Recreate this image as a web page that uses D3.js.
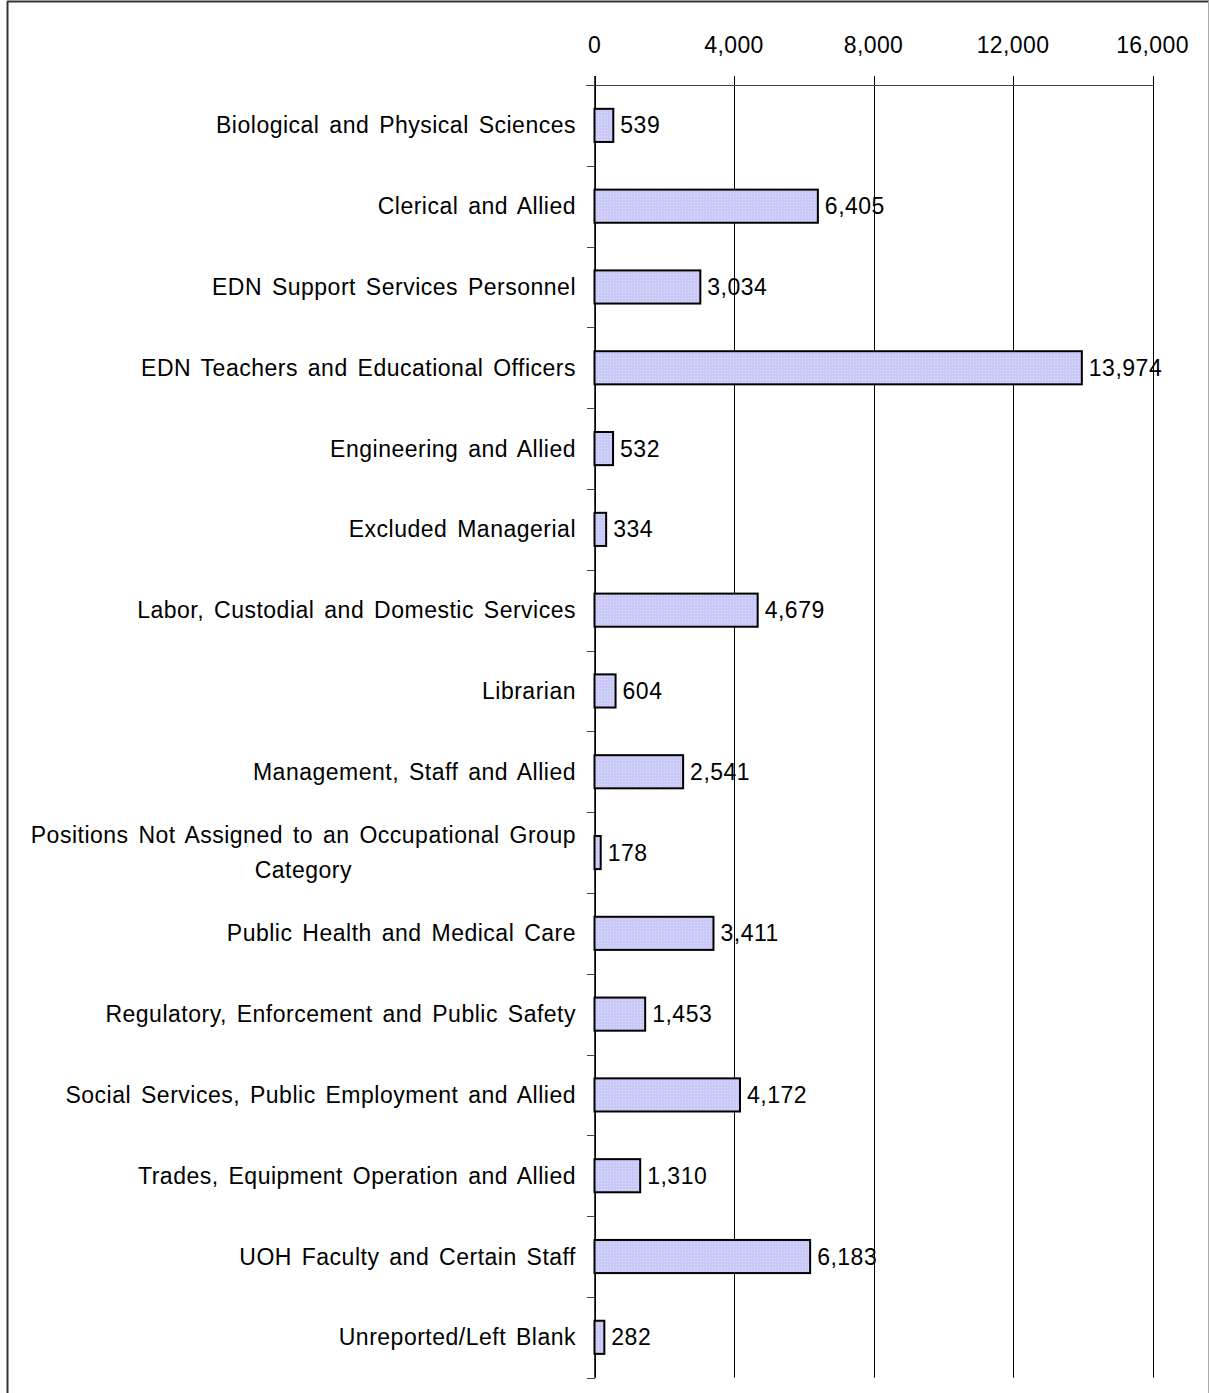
<!DOCTYPE html>
<html>
<head>
<meta charset="utf-8">
<script src="https://cdn.jsdelivr.net/npm/d3@7"></script>
<style>
  html, body { margin: 0; padding: 0; background: #fff; }
  svg { display: block; }
  text { font-family: "Liberation Sans", Arial, sans-serif; fill: #000; }
</style>
</head>
<body>
<svg id="chart" width="1209" height="1393"></svg>
<script>
const categories = [
  "Biological and Physical Sciences",
  "Clerical and Allied",
  "EDN Support Services Personnel",
  "EDN Teachers and Educational Officers",
  "Engineering and Allied",
  "Excluded Managerial",
  "Labor, Custodial and Domestic Services",
  "Librarian",
  "Management, Staff and Allied",
  "Positions Not Assigned to an Occupational Group Category",
  "Public Health and Medical Care",
  "Regulatory, Enforcement and Public Safety",
  "Social Services, Public Employment and Allied",
  "Trades, Equipment Operation and Allied",
  "UOH Faculty and Certain Staff",
  "Unreported/Left Blank"
];
const values = [539, 6405, 3034, 13974, 532, 334, 4679, 604, 2541, 178, 3411, 1453, 4172, 1310, 6183, 282];
const tickValues = [0, 4000, 8000, 12000, 16000];
const labelLines = {
  "Positions Not Assigned to an Occupational Group Category": ["Positions Not Assigned to an Occupational Group", "Category"]
};

const svg = d3.select("#chart");
const fmt = d3.format(",");
const FS = 23;

// frame
svg.append("line").attr("x1", 7.5).attr("x2", 7.5).attr("y1", 1.5).attr("y2", 1393)
  .attr("stroke", "#333").attr("stroke-width", 2);
svg.append("line").attr("x1", 7).attr("x2", 1209).attr("y1", 1.5).attr("y2", 1.5)
  .attr("stroke", "#333").attr("stroke-width", 2);
svg.append("line").attr("x1", 1208.5).attr("x2", 1208.5).attr("y1", 1).attr("y2", 1393)
  .attr("stroke", "#aaa").attr("stroke-width", 1);

const defs = svg.append("defs");
const pat = defs.append("pattern").attr("id", "dots").attr("patternUnits", "userSpaceOnUse")
  .attr("width", 3).attr("height", 3);
pat.append("rect").attr("width", 3).attr("height", 3).attr("fill", "#c9c9f7");
pat.append("rect").attr("x", 1).attr("y", 1).attr("width", 1).attr("height", 1).attr("fill", "#e2e2ff");

const x = d3.scaleLinear().domain([0, 16000]).range([594.5, 1152.5]);
const y = d3.scaleBand().domain(categories).range([85, 1377.7]).paddingInner(0.59).paddingOuter(0.295);
const band = (1377.7 - 85) / categories.length;

// gridlines + top ticks
svg.append("g").selectAll("line.grid").data(tickValues).join("line")
  .attr("class", "grid")
  .attr("x1", d => Math.round(x(d)) + 0.5).attr("x2", d => Math.round(x(d)) + 0.5)
  .attr("y1", 76).attr("y2", 1377.7)
  .attr("stroke", "#000").attr("stroke-width", 1);

// top axis line
svg.append("line").attr("x1", 586).attr("x2", 1153).attr("y1", 85.5).attr("y2", 85.5)
  .attr("stroke", "#444").attr("stroke-width", 1);

// tick labels
svg.selectAll("text.tick").data(tickValues).join("text")
  .attr("class", "tick")
  .attr("x", d => x(d)).attr("y", 53)
  .attr("text-anchor", "middle")
  .attr("font-size", FS)
  .attr("letter-spacing", 0.4)
  .text(d => fmt(d));

// category axis vertical line
svg.append("line").attr("x1", 595).attr("x2", 595).attr("y1", 76).attr("y2", 1377.7)
  .attr("stroke", "#000").attr("stroke-width", 1.5);

// category ticks at band boundaries
const bounds = d3.range(categories.length + 1).map(i => 85 + i * band);
svg.selectAll("line.ctick").data(bounds).join("line")
  .attr("class", "ctick")
  .attr("x1", 587).attr("x2", 595)
  .attr("y1", d => Math.round(d) + 0.5).attr("y2", d => Math.round(d) + 0.5)
  .attr("stroke", "#444").attr("stroke-width", 1);

// bars
svg.selectAll("rect.bar").data(values).join("rect")
  .attr("class", "bar")
  .attr("x", x(0))
  .attr("y", (d, i) => y(categories[i]))
  .attr("width", d => x(d) - x(0))
  .attr("height", y.bandwidth())
  .attr("fill", "url(#dots)")
  .attr("stroke", "#000").attr("stroke-width", 2);

// value labels
svg.selectAll("text.val").data(values).join("text")
  .attr("class", "val")
  .attr("x", d => x(d) + 7)
  .attr("y", (d, i) => y(categories[i]) + y.bandwidth() / 2)
  .attr("dy", "0.35em")
  .attr("font-size", FS)
  .attr("letter-spacing", 0.5)
  .text(d => fmt(d));

// category labels
categories.forEach(c => {
  const lines = labelLines[c] || [c];
  const cy = y(c) + y.bandwidth() / 2;
  const lh = 35;
  const nodes = lines.map((l, k) => svg.append("text")
    .attr("class", "cat")
    .attr("font-size", FS)
    .attr("letter-spacing", 0.5)
    .attr("word-spacing", 3)
    .attr("text-anchor", "end")
    .attr("x", 576)
    .attr("y", cy + (k - (lines.length - 1) / 2) * lh)
    .attr("dy", "0.35em")
    .text(l));
  if (nodes.length > 1) {
    const ws = nodes.map(n => n.node().getBBox().width);
    const maxW = d3.max(ws);
    nodes.forEach((n, k) => n.attr("x", 576 - (maxW - ws[k]) / 2));
  }
});
</script>
</body>
</html>
